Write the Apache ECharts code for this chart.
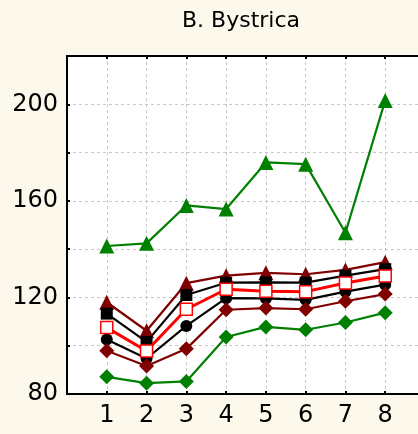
<!DOCTYPE html>
<html>
<head>
<meta charset="utf-8">
<script src="https://cdn.jsdelivr.net/npm/echarts@6/dist/echarts.min.js"></script>
<style>
html,body{margin:0;padding:0;background:#fdf8ec;}
#c{width:418px;height:434px;}
</style>
</head>
<body>
<div id="c"></div>
<script>
var categories = [1, 2, 3, 4, 5, 6, 7, 8];
var greenTriangles = [141.3, 142.4, 158.1, 156.6, 175.9, 175.2, 146.8, 201.6];
var maroonTriangles = [118.0, 106.2, 125.9, 129.0, 130.2, 129.6, 131.4, 134.6];
var blackSquares = [113.3, 101.6, 121.0, 126.1, 126.2, 126.1, 129.0, 131.7];
var redOpenSquares = [107.5, 97.8, 115.1, 123.4, 122.6, 122.4, 126.0, 128.9];
var blackCircles = [102.6, 94.7, 108.2, 119.7, 119.6, 119.0, 122.4, 125.3];
var maroonDiamonds = [97.9, 91.6, 98.7, 114.9, 115.6, 115.1, 118.4, 121.4];
var greenDiamonds = [87.1, 84.5, 85.2, 103.6, 107.8, 106.6, 109.6, 113.7];
var yTickLabels = [80, 120, 160, 200];
var titleText = 'B. Bystrica';

function pairs(vals) {
  return categories.map(function (c, i) { return [c, vals[i]]; });
}
var FONT = 'DejaVu Sans';
function mk(name, vals, color, symbol, size, opts) {
  opts = opts || {};
  return {
    name: name, type: 'line', data: pairs(vals),
    symbol: symbol, symbolSize: size,
    lineStyle: { color: color, width: opts.lw || 2.2 },
    itemStyle: { color: opts.fill || color, borderColor: color, borderWidth: opts.bw || 0 },
    z: opts.z || 2, animation: false
  };
}
var chart = echarts.init(document.getElementById('c'), null, { renderer: 'canvas' });
chart.setOption({
  backgroundColor: '#fdf8ec',
  animation: false,
  graphic: [{
    type: 'text', x: 241, y: 21,
    style: { text: titleText, fill: '#000', font: '22px "DejaVu Sans"', textAlign: 'center', textVerticalAlign: 'middle' }
  }],
  grid: { left: 67, right: -7, top: 56, bottom: 40, show: true, backgroundColor: '#fff', borderColor: '#000', borderWidth: 2,
          containLabel: false, outerBoundsMode: 'none' },
  xAxis: [{
    type: 'value', min: 0, max: 9, interval: 1, position: 'bottom',
    axisLine: { show: true, onZero: false, lineStyle: { color: '#000', width: 2 } },
    axisTick: { show: true, inside: true, length: 3, lineStyle: { color: '#000', width: 2 } },
    axisLabel: {
      color: '#000', fontFamily: FONT, fontSize: 24, margin: 10,
      formatter: function (v) { return categories.indexOf(v) >= 0 ? String(v) : ''; }
    },
    splitLine: { show: true, lineStyle: { color: '#c8c8c8', width: 1, type: [3, 3] } }
  }, {
    type: 'value', min: 0, max: 9, interval: 1, position: 'top',
    axisLine: { show: true, onZero: false, lineStyle: { color: '#000', width: 2 } },
    axisTick: { show: true, inside: true, length: 3, lineStyle: { color: '#000', width: 2 } },
    axisLabel: { show: false }, splitLine: { show: false }
  }],
  yAxis: {
    type: 'value', min: 80, max: 220, interval: 20,
    axisLine: { show: true, onZero: false, lineStyle: { color: '#000', width: 2 } },
    axisTick: { show: true, inside: true, length: 3, lineStyle: { color: '#000', width: 2 } },
    axisLabel: {
      color: '#000', fontFamily: FONT, fontSize: 24, margin: 9,
      formatter: function (v) { return yTickLabels.indexOf(v) >= 0 ? String(v) : ''; }
    },
    splitLine: { show: true, lineStyle: { color: '#c8c8c8', width: 1, type: [3, 3] } }
  },
  series: [
    mk('gt', greenTriangles, '#008000', 'triangle', 15),
    mk('mt', maroonTriangles, '#800000', 'triangle', 15),
    mk('bs', blackSquares, '#000000', 'rect', 12),
    mk('rs', redOpenSquares, '#ff0000', 'rect', 12, { lw: 3, fill: '#ffffff', bw: 1.5, z: 3 }),
    mk('bc', blackCircles, '#000000', 'circle', 12),
    mk('md', maroonDiamonds, '#800000', 'diamond', 15),
    mk('gd', greenDiamonds, '#008000', 'diamond', 15)
  ]
});
</script>
</body>
</html>
